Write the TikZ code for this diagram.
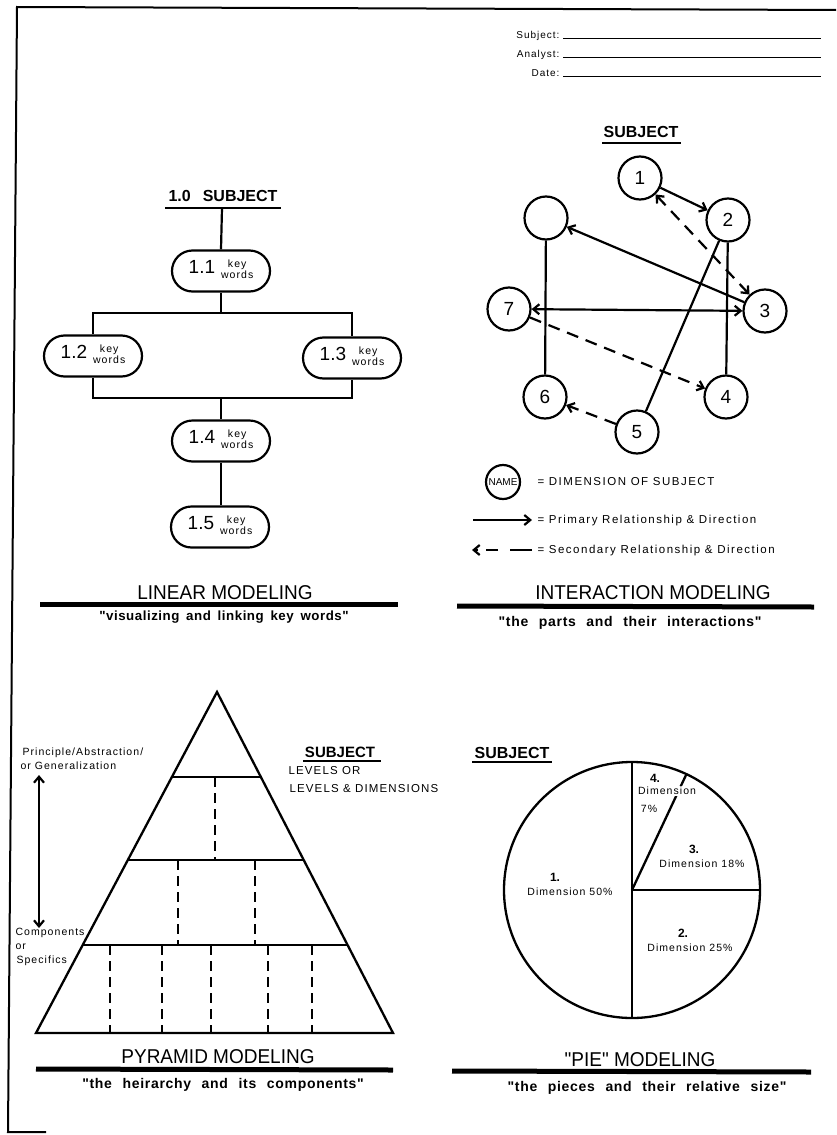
\documentclass[tikz,border=0pt]{standalone}
\usepackage{fontspec}
\setmainfont{Liberation Sans}
\newfontfamily\spf[LetterSpace=10]{Liberation Sans}
\newfontfamily\wsf[LetterSpace=13]{Liberation Sans}
\newfontfamily\ttlf[FakeStretch=0.95]{Liberation Sans}
\newfontfamily\subf[LetterSpace=4,WordSpace=1.6]{Liberation Sans}
\newfontfamily\subwf[LetterSpace=5,WordSpace=2.3]{Liberation Sans}
\usetikzlibrary{arrows.meta,shapes.misc,calc}
\newcommand\kwlabel[1]{{\fontsize{19}{19}\selectfont #1}\hspace{6pt}{\spf\fontsize{10.5}{12}\selectfont\begin{tabular}{@{}c@{}}key\\[-1pt]words\end{tabular}}}
\begin{document}
\begin{tikzpicture}[x=1pt,y=-1pt,
  >={Straight Barb[length=6pt,width=10pt]},
  frame/.style={line width=2pt},
  lnk/.style={line width=2.2pt},
  kw/.style={rounded rectangle, draw, line width=2.2pt, minimum width=98pt, minimum height=41pt, inner sep=0pt},
  dim/.style={circle, draw, line width=2.2pt, minimum size=43pt, inner sep=0pt, font=\fontsize{19}{19}\selectfont},
  pri/.style={line width=2.2pt},
  sec/.style={line width=2.2pt, dash pattern=on 12pt off 8pt},
  pyr/.style={line width=2.3pt},
  pdash/.style={line width=2.2pt, dash pattern=on 10pt off 6pt},
  ttl/.style={font=\ttlf\fontsize{20}{20}\selectfont},
  sub/.style={font=\subwf\bfseries\fontsize{14}{15}\selectfont},
  bar/.style={line width=5pt},
  ul/.style={line width=2.2pt},
  hd/.style={font=\bfseries\fontsize{16}{16}\selectfont},
  sm/.style={font=\spf\fontsize{10.5}{12}\selectfont},
  ws/.style={font=\wsf\fontsize{11.5}{13}\selectfont},
  pn/.style={font=\bfseries\fontsize{12}{13}\selectfont},
]
\useasboundingbox (0,0) rectangle (836,1135);

% frame
\coordinate (b1) at (836,10);
\coordinate (b2) at (17,7);
\coordinate (b3) at (8,1132);
\coordinate (b4) at (46,1132);
\draw[frame] (b1) -- (b2) -- (b3) -- (b4);

% header
\node[sm, font=\spf\fontsize{10}{11}\selectfont, anchor=base east] (hs) at (563,38) {Subject:};
\node[sm, font=\spf\fontsize{10}{11}\selectfont, anchor=base east] (ha) at (563,57) {Analyst:};
\node[sm, font=\spf\fontsize{10}{11}\selectfont, anchor=base east] (hd) at (563,76) {Date:};
\coordinate (hsE) at (821,38);
\coordinate (haE) at (821,57);
\coordinate (hdE) at (821,76);
\draw[line width=1pt] (hs.base east) -- (hsE);
\draw[line width=1pt] (ha.base east) -- (haE);
\draw[line width=1pt] (hd.base east) -- (hdE);

% ---------- linear modeling
\node[hd, anchor=base] (lsub) at (223,201) {1.0\hspace{12pt}SUBJECT};
\coordinate (lu1) at (165,208);
\coordinate (lu2) at (281,208);
\coordinate (lu) at (222,208);
\draw[ul] (lu1) -- (lu2);
\node[kw] (l11) at (221,271) {\kwlabel{1.1}};
\node[kw] (l12) at (93,356) {\kwlabel{1.2}};
\node[kw] (l13) at (352,358) {\kwlabel{1.3}};
\node[kw] (l14) at (221,441) {\kwlabel{1.4}};
\node[kw] (l15) at (220,527) {\kwlabel{1.5}};
\coordinate (bt) at (0,313);
\coordinate (bb) at (0,398);
\draw[lnk] (lu) -- (l11.north);
\draw[lnk] (l11.south) -- (l11.south |- bt);
\draw[lnk] (l12.north) -- (l12.north |- bt) -- (l13.north |- bt) -- (l13.north);
\draw[lnk] (l12.south) -- (l12.south |- bb) -- (l13.south |- bb) -- (l13.south);
\draw[lnk] (l14.north) -- (l14.north |- bb);
\draw[lnk] (l14.south) -- (l14.south |- l15.north);
\node[ttl] (lt) at (225,593) {LINEAR MODELING};
\coordinate (lb1) at (40,604);
\coordinate (lb2) at (398,604);
\draw[bar] (lb1) -- (lb2);
\node[sub, font=\subf\bfseries\fontsize{13.3}{14}\selectfont] (ls) at (224,617) {"visualizing and linking key words"};

% ---------- interaction modeling
\node[hd] (isub) at (641,132) {SUBJECT};
\coordinate (iu1) at (602,143);
\coordinate (iu2) at (681,143);
\draw[ul] (iu1) -- (iu2);
\node[dim] (n1) at (640,178) {1};
\node[dim] (n2) at (728,220) {2};
\node[dim] (nb) at (546,218) {};
\node[dim] (n7) at (509,309) {7};
\node[dim] (n3) at (765,311) {3};
\node[dim] (n6) at (545,397) {6};
\node[dim] (n4) at (726,397) {4};
\node[dim] (n5) at (637,432) {5};
\draw[pri,->] (n1) -- (n2);
\draw[sec,<->] (n1) -- (n3);
\draw[pri,->] (n3) -- (nb);
\draw[pri,<->] (n7) -- (n3);
\draw[pri] (nb) -- (n6);
\draw[pri] (n2) -- (n4);
\draw[pri] (n2) -- (n5);
\draw[sec,->] (n7) -- (n4);
\draw[sec,->] (n5) -- (n6);

% legend
\node[circle, draw, line width=2.2pt, minimum size=34pt, inner sep=0pt, font=\fontsize{10}{10}\selectfont] (lgc) at (503,482) {NAME};
\node[ws, anchor=west] (lg1) at (534,482) {= DIMENSION OF SUBJECT};
\coordinate (lp1) at (473,520);
\coordinate (lp2) at (532,520);
\draw[pri,->] (lp1) -- (lp2);
\node[ws, anchor=west] (lg2) at (534,521) {= Primary Relationship \& Direction};
\coordinate (ls1) at (532,550);
\coordinate (ls2) at (472,550);
\draw[sec,->, dash pattern=on 22pt off 12pt on 12pt off 8pt] (ls1) -- (ls2);
\node[ws, anchor=west] (lg3) at (534,551) {= Secondary Relationship \& Direction};
\node[ttl] (it) at (653,593) {INTERACTION MODELING};
\coordinate (ib1) at (457,606);
\coordinate (ib2) at (814,607);
\draw[bar] (ib1) -- (ib2);
\node[sub] (is) at (630,623) {"the parts and their interactions"};

% ---------- pyramid modeling
\coordinate (pa) at (217,692);
\coordinate (pl) at (36,1033);
\coordinate (pr) at (393,1033);
\draw[pyr, line join=miter] (pl) -- (pa) -- (pr) -- cycle;
\draw[pyr] ($(pa)!0.249!(pl)$) -- ($(pa)!0.249!(pr)$);
\draw[pyr] ($(pa)!0.493!(pl)$) -- ($(pa)!0.493!(pr)$);
\draw[pyr] ($(pa)!0.742!(pl)$) -- ($(pa)!0.742!(pr)$);
\draw[pdash] (215,777) -- (215,860);
\draw[pdash] (178,860) -- (178,945);
\draw[pdash] (255,860) -- (255,945);
\foreach \xx in {110,162,211,268,312} { \draw[pdash] (\xx,945) -- (\xx,1033); }
\node[sm, anchor=west] (pp1) at (19,753) {Principle/Abstraction/};
\node[sm, anchor=west] (pp2) at (17,766) {or Generalization};
\coordinate (da1) at (39,775);
\coordinate (da2) at (39,928);
\draw[lnk,<->] (da1) -- (da2);
\node[sm, anchor=west] (pc1) at (12,933) {Components};
\node[sm, anchor=west] (pc2) at (12,947) {or};
\node[sm, anchor=west] (pc3) at (13,961) {Specifics};
\node[hd, font=\bfseries\fontsize{15}{15}\selectfont] (psub) at (340,752) {SUBJECT};
\coordinate (pu1) at (303,761);
\coordinate (pu2) at (381,761);
\draw[ul] (pu1) -- (pu2);
\node[sm, font=\spf\fontsize{11.5}{13}\selectfont, anchor=west] (plv1) at (285,771) {LEVELS OR};
\node[sm, font=\spf\fontsize{11.5}{13}\selectfont, anchor=west] (plv2) at (286,789) {LEVELS \& DIMENSIONS};
\node[ttl] (pt) at (218,1057) {PYRAMID MODELING};
\coordinate (pb1) at (36,1069);
\coordinate (pb2) at (393,1070);
\draw[bar] (pb1) -- (pb2);
\node[sub] (ps) at (223,1085) {"the heirarchy and its components"};

% ---------- pie modeling
\node[hd] (esub) at (512,753) {SUBJECT};
\coordinate (eu1) at (472,762);
\coordinate (eu2) at (552,762);
\draw[ul] (eu1) -- (eu2);
\coordinate (ec) at (632,890);
\coordinate (etop) at (632,762);
\coordinate (ebot) at (632,1018);
\coordinate (eright) at (760,890);
\coordinate (e7) at (686.5,774);
\draw[pyr] (ec) circle[radius=128];
\draw[pyr] (etop) -- (ebot);
\draw[pyr] (ec) -- (eright);
\draw[pyr] (ec) -- (e7);
\node[pn] (e4n) at (655,778) {4.};
\node[sm, fill=white, inner sep=1pt] (e4d) at (667,791) {Dimension};
\node[sm] (e4p) at (649,809) {7\%};
\node[pn] (e3n) at (694,849) {3.};
\node[sm] (e3d) at (702,864) {Dimension\hspace{4pt}18\%};
\node[pn] (e1n) at (555,877) {1.};
\node[sm] (e1d) at (570,892) {Dimension\hspace{4pt}50\%};
\node[pn] (e2n) at (683,933) {2.};
\node[sm] (e2d) at (690,948) {Dimension\hspace{4pt}25\%};
\node[ttl] (et) at (640,1060) {"PIE" MODELING};
\coordinate (eb1) at (452,1071);
\coordinate (eb2) at (811,1072);
\draw[bar] (eb1) -- (eb2);
\node[sub] (es) at (647,1088) {"the pieces and their relative size"};
\end{tikzpicture}
\end{document}
